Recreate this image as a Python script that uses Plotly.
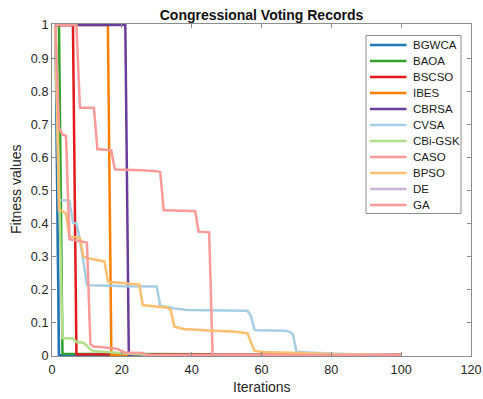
import plotly.graph_objects as go

ITERATIONS = list(range(1, 101))

NAMES = ["BGWCA", "BAOA", "BSCSO", "IBES", "CBRSA", "CVSA",
         "CBi-GSK", "CASO", "BPSO", "DE", "GA"]
COLORS = ["#1f78b4", "#33a02c", "#e31a1c", "#ff7f00", "#6a3d9a", "#a6cee3",
          "#b2df8a", "#fb9a99", "#fdbf6f", "#cab2d6", "#fb9a99"]

BGWCA = [1.0, 0.001, 0.001, 0.001, 0.001, 0.001, 0.001, 0.001, 0.001, 0.001,
         0.001, 0.001, 0.001, 0.001, 0.001, 0.001, 0.001, 0.001, 0.001, 0.001,
         0.001, 0.001, 0.001, 0.001, 0.001, 0.001, 0.001, 0.001, 0.001, 0.001,
         0.001, 0.001, 0.001, 0.001, 0.001, 0.001, 0.001, 0.001, 0.001, 0.001,
         0.001, 0.001, 0.001, 0.001, 0.001, 0.001, 0.001, 0.001, 0.001, 0.001,
         0.001, 0.001, 0.001, 0.001, 0.001, 0.001, 0.001, 0.001, 0.001, 0.001,
         0.001, 0.001, 0.001, 0.001, 0.001, 0.001, 0.001, 0.001, 0.001, 0.001,
         0.001, 0.001, 0.001, 0.001, 0.001, 0.001, 0.001, 0.001, 0.001, 0.001,
         0.001, 0.001, 0.001, 0.001, 0.001, 0.001, 0.001, 0.001, 0.001, 0.001,
         0.001, 0.001, 0.001, 0.001, 0.001, 0.001, 0.001, 0.001, 0.001, 0.001]

BAOA = [1.0, 1.0, 0.006, 0.006, 0.006, 0.006, 0.006, 0.006, 0.006, 0.005,
        0.005, 0.005, 0.005, 0.005, 0.005, 0.005, 0.005, 0.005, 0.005, 0.005,
        0.005, 0.005, 0.004, 0.004, 0.004, 0.004, 0.004, 0.004, 0.004, 0.004,
        0.004, 0.004, 0.004, 0.004, 0.004, 0.004, 0.004, 0.004, 0.004, 0.004,
        0.004, 0.004, 0.004, 0.004, 0.004, 0.003, 0.003, 0.003, 0.003, 0.003,
        0.003, 0.003, 0.003, 0.003, 0.003, 0.003, 0.003, 0.003, 0.003, 0.003,
        0.003, 0.003, 0.003, 0.003, 0.003, 0.003, 0.003, 0.003, 0.003, 0.003,
        0.003, 0.003, 0.003, 0.003, 0.003, 0.003, 0.003, 0.003, 0.003, 0.003,
        0.003, 0.003, 0.003, 0.003, 0.003, 0.003, 0.003, 0.003, 0.003, 0.003,
        0.003, 0.003, 0.003, 0.003, 0.003, 0.003, 0.003, 0.003, 0.003, 0.003]

BSCSO = [1.0, 1.0, 1.0, 1.0, 1.0, 1.0, 0.004, 0.004, 0.004, 0.004,
         0.004, 0.004, 0.004, 0.004, 0.004, 0.004, 0.004, 0.004, 0.004, 0.004,
         0.004, 0.002, 0.002, 0.002, 0.002, 0.002, 0.002, 0.002, 0.002, 0.002,
         0.002, 0.002, 0.002, 0.002, 0.002, 0.002, 0.002, 0.002, 0.002, 0.002,
         0.002, 0.002, 0.002, 0.002, 0.002, 0.002, 0.002, 0.002, 0.002, 0.002,
         0.002, 0.002, 0.002, 0.002, 0.002, 0.002, 0.002, 0.002, 0.002, 0.002,
         0.002, 0.002, 0.002, 0.002, 0.002, 0.005, 0.005, 0.005, 0.005, 0.005,
         0.005, 0.005, 0.002, 0.002, 0.002, 0.002, 0.002, 0.002, 0.002, 0.002,
         0.002, 0.002, 0.002, 0.002, 0.002, 0.002, 0.002, 0.002, 0.002, 0.002,
         0.002, 0.002, 0.002, 0.002, 0.002, 0.002, 0.002, 0.002, 0.002, 0.002]

IBES = [1.0, 1.0, 1.0, 1.0, 1.0, 1.0, 1.0, 1.0, 1.0, 1.0,
        1.0, 1.0, 1.0, 1.0, 1.0, 1.0, 0.002, 0.002, 0.002, 0.002,
        0.002, 0.002, 0.002, 0.002, 0.002, 0.002, 0.002, 0.002, 0.002, 0.002,
        0.002, 0.002, 0.002, 0.002, 0.002, 0.002, 0.002, 0.002, 0.002, 0.002,
        0.002, 0.002, 0.002, 0.002, 0.002, 0.002, 0.002, 0.002, 0.002, 0.002,
        0.002, 0.002, 0.002, 0.002, 0.002, 0.002, 0.002, 0.002, 0.002, 0.002,
        0.002, 0.002, 0.002, 0.002, 0.002, 0.002, 0.002, 0.002, 0.002, 0.002,
        0.002, 0.002, 0.002, 0.002, 0.002, 0.002, 0.002, 0.002, 0.002, 0.002,
        0.002, 0.002, 0.002, 0.002, 0.002, 0.002, 0.002, 0.002, 0.002, 0.002,
        0.002, 0.002, 0.002, 0.002, 0.002, 0.002, 0.002, 0.002, 0.002, 0.002]

CBRSA = [1.0, 1.0, 1.0, 1.0, 1.0, 1.0, 1.0, 1.0, 1.0, 1.0,
         1.0, 1.0, 1.0, 1.0, 1.0, 1.0, 1.0, 1.0, 1.0, 1.0,
         1.0, 0.002, 0.002, 0.002, 0.002, 0.002, 0.002, 0.002, 0.002, 0.002,
         0.002, 0.002, 0.002, 0.002, 0.002, 0.002, 0.002, 0.002, 0.002, 0.002,
         0.002, 0.002, 0.002, 0.002, 0.002, 0.002, 0.002, 0.002, 0.002, 0.002,
         0.002, 0.002, 0.002, 0.002, 0.002, 0.002, 0.002, 0.002, 0.002, 0.002,
         0.002, 0.002, 0.002, 0.002, 0.002, 0.002, 0.002, 0.002, 0.002, 0.002,
         0.002, 0.002, 0.002, 0.002, 0.002, 0.002, 0.002, 0.002, 0.002, 0.002,
         0.002, 0.002, 0.002, 0.002, 0.002, 0.002, 0.002, 0.002, 0.002, 0.002,
         0.002, 0.002, 0.002, 0.002, 0.002, 0.002, 0.002, 0.002, 0.002, 0.002]

CVSA = [1.0, 0.47, 0.47, 0.47, 0.469, 0.402, 0.40, 0.35, 0.275, 0.214,
        0.213, 0.213, 0.213, 0.212, 0.212, 0.212, 0.211, 0.211, 0.211, 0.21,
        0.21, 0.21, 0.21, 0.21, 0.21, 0.21, 0.21, 0.21, 0.21, 0.209,
        0.15, 0.149, 0.148, 0.146, 0.143, 0.141, 0.14, 0.139, 0.138, 0.138,
        0.138, 0.138, 0.138, 0.138, 0.138, 0.138, 0.137, 0.137, 0.137, 0.137,
        0.137, 0.137, 0.137, 0.137, 0.136, 0.136, 0.12, 0.078, 0.077, 0.077,
        0.077, 0.077, 0.077, 0.077, 0.077, 0.076, 0.075, 0.072, 0.065, 0.012,
        0.011, 0.01, 0.01, 0.009, 0.009, 0.008, 0.008, 0.007, 0.007, 0.006,
        0.006, 0.006, 0.005, 0.005, 0.005, 0.004, 0.004, 0.004, 0.003, 0.003,
        0.003, 0.003, 0.002, 0.002, 0.002, 0.002, 0.002, 0.002, 0.002, 0.002]

CBI_GSK = [1.0, 0.5, 0.053, 0.053, 0.053, 0.052, 0.041, 0.04, 0.039, 0.03,
           0.018, 0.014, 0.013, 0.013, 0.012, 0.012, 0.011, 0.008, 0.007, 0.007,
           0.006, 0.006, 0.004, 0.004, 0.004, 0.003, 0.001, 0.001, 0.001, 0.001,
           0.001, 0.001, 0.001, 0.001, 0.001, 0.001, 0.001, 0.001, 0.001, 0.001,
           0.001, 0.001, 0.001, 0.001, 0.001, 0.001, 0.001, 0.001, 0.001, 0.001,
           0.001, 0.001, 0.001, 0.001, 0.001, 0.001, 0.001, 0.001, 0.001, 0.001,
           0.001, 0.001, 0.001, 0.001, 0.001, 0.001, 0.001, 0.001, 0.001, 0.001,
           0.001, 0.001, 0.001, 0.001, 0.001, 0.001, 0.001, 0.001, 0.001, 0.001,
           0.001, 0.001, 0.001, 0.001, 0.001, 0.001, 0.001, 0.001, 0.001, 0.001,
           0.001, 0.001, 0.001, 0.001, 0.001, 0.001, 0.001, 0.001, 0.001, 0.001]

CASO = [1.0, 1.0, 1.0, 1.0, 1.0, 1.0, 1.0, 0.75, 0.75, 0.75,
        0.75, 0.75, 0.625, 0.625, 0.623, 0.622, 0.62, 0.563, 0.563, 0.562,
        0.562, 0.562, 0.561, 0.561, 0.561, 0.561, 0.56, 0.56, 0.56, 0.558,
        0.555, 0.44, 0.44, 0.439, 0.439, 0.439, 0.438, 0.438, 0.438, 0.438,
        0.437, 0.375, 0.375, 0.374, 0.373, 0.002, 0.002, 0.002, 0.002, 0.002,
        0.002, 0.002, 0.002, 0.002, 0.002, 0.002, 0.002, 0.002, 0.002, 0.002,
        0.002, 0.002, 0.002, 0.002, 0.002, 0.002, 0.002, 0.002, 0.002, 0.002,
        0.002, 0.002, 0.002, 0.002, 0.002, 0.002, 0.002, 0.002, 0.002, 0.002,
        0.002, 0.002, 0.002, 0.002, 0.002, 0.002, 0.002, 0.002, 0.002, 0.002,
        0.002, 0.002, 0.002, 0.002, 0.002, 0.002, 0.002, 0.002, 0.002, 0.002]

BPSO = [1.0, 0.44, 0.437, 0.43, 0.36, 0.36, 0.358, 0.355, 0.30, 0.295,
        0.293, 0.292, 0.29, 0.289, 0.285, 0.225, 0.222, 0.222, 0.221, 0.22,
        0.22, 0.219, 0.219, 0.218, 0.215, 0.153, 0.152, 0.151, 0.15, 0.148,
        0.147, 0.146, 0.145, 0.14, 0.088, 0.085, 0.082, 0.08, 0.08, 0.079,
        0.079, 0.078, 0.078, 0.077, 0.075, 0.075, 0.075, 0.074, 0.074, 0.074,
        0.073, 0.073, 0.072, 0.072, 0.071, 0.068, 0.04, 0.015, 0.013, 0.011,
        0.01, 0.01, 0.01, 0.01, 0.01, 0.009, 0.009, 0.009, 0.009, 0.008,
        0.008, 0.008, 0.007, 0.007, 0.007, 0.006, 0.006, 0.005, 0.005, 0.005,
        0.004, 0.004, 0.004, 0.004, 0.003, 0.003, 0.003, 0.003, 0.003, 0.003,
        0.002, 0.002, 0.002, 0.002, 0.002, 0.001, 0.001, 0.001, 0.001, 0.001]

DE = [1.0, 0.0, 0.0, 0.0, 0.0, 0.0, 0.0, 0.0, 0.0, 0.0,
      0.0, 0.0, 0.0, 0.0, 0.0, 0.0, 0.0, 0.0, 0.0, 0.0,
      0.0, 0.0, 0.0, 0.0, 0.0, 0.0, 0.0, 0.0, 0.0, 0.0,
      0.0, 0.0, 0.0, 0.0, 0.0, 0.0, 0.0, 0.0, 0.0, 0.0,
      0.0, 0.0, 0.0, 0.0, 0.0, 0.0, 0.0, 0.0, 0.0, 0.0,
      0.0, 0.0, 0.0, 0.0, 0.0, 0.0, 0.0, 0.0, 0.0, 0.0,
      0.0, 0.0, 0.0, 0.0, 0.0, 0.0, 0.0, 0.0, 0.0, 0.0,
      0.0, 0.0, 0.0, 0.0, 0.0, 0.0, 0.0, 0.0, 0.0, 0.0,
      0.0, 0.0, 0.0, 0.0, 0.0, 0.0, 0.0, 0.0, 0.0, 0.0,
      0.0, 0.0, 0.0, 0.0, 0.0, 0.0, 0.0, 0.0, 0.0, 0.0]

GA = [1.0, 0.69, 0.668, 0.665, 0.352, 0.35, 0.349, 0.347, 0.345, 0.342,
      0.035, 0.027, 0.027, 0.026, 0.026, 0.026, 0.025, 0.022, 0.019, 0.014,
      0.009, 0.009, 0.009, 0.008, 0.008, 0.008, 0.002, 0.002, 0.002, 0.002,
      0.002, 0.002, 0.002, 0.002, 0.002, 0.002, 0.002, 0.002, 0.002, 0.002,
      0.002, 0.002, 0.002, 0.002, 0.002, 0.002, 0.002, 0.002, 0.002, 0.002,
      0.002, 0.002, 0.002, 0.002, 0.002, 0.002, 0.002, 0.002, 0.002, 0.002,
      0.002, 0.002, 0.002, 0.002, 0.002, 0.002, 0.002, 0.002, 0.002, 0.002,
      0.002, 0.002, 0.002, 0.002, 0.002, 0.002, 0.002, 0.002, 0.002, 0.002,
      0.002, 0.002, 0.002, 0.002, 0.002, 0.002, 0.002, 0.002, 0.002, 0.002,
      0.002, 0.002, 0.002, 0.002, 0.002, 0.002, 0.002, 0.002, 0.002, 0.002]

VALUES = [BGWCA, BAOA, BSCSO, IBES, CBRSA, CVSA, CBI_GSK, CASO, BPSO, DE, GA]

X_TICKS = [0, 20, 40, 60, 80, 100, 120]
Y_TICKS = [0, 0.1, 0.2, 0.3, 0.4, 0.5, 0.6, 0.7, 0.8, 0.9, 1]
Y_TICK_TEXT = ["0", "0.1", "0.2", "0.3", "0.4", "0.5", "0.6", "0.7", "0.8", "0.9", "1"]

FONT = "Liberation Sans, Arial, Helvetica, sans-serif"
W, H = 483, 399
ML, MR, MT, MB = 52, 12, 24, 43
LW = 2.5

fig = go.Figure()
# DE is drawn first (underneath the others); the legend keeps the original order
draw_order = [9] + [i for i in range(len(NAMES)) if i != 9]
for i in draw_order:
    fig.add_trace(go.Scatter(x=ITERATIONS, y=VALUES[i], mode="lines", name=NAMES[i],
                             line=dict(color=COLORS[i], width=LW),
                             showlegend=False, hoverinfo="skip"))

pw, ph = W - ML - MR, H - MT - MB
def px(x):
    return (x - ML) / pw
def py(y):
    return (H - MB - y) / ph

# Compact MATLAB-style legend box
shapes = [dict(type="rect", xref="paper", yref="paper",
               x0=px(366), x1=px(461), y0=py(213.5), y1=py(35.5),
               line=dict(color="#8c8c8c", width=1), fillcolor="white", layer="above")]
annotations = []
for k, (name, col) in enumerate(zip(NAMES, COLORS)):
    yy = 45 + 16 * k
    shapes.append(dict(type="line", xref="paper", yref="paper",
                       x0=px(370), x1=px(406.5), y0=py(yy), y1=py(yy),
                       line=dict(color=col, width=LW), layer="above"))
    annotations.append(dict(text=name, xref="paper", yref="paper", x=px(410.5), y=py(yy),
                            xanchor="left", yanchor="middle", showarrow=False,
                            font=dict(family=FONT, size=11.5, color="#1a1a1a")))

# Axis titles
annotations.append(dict(text="Iterations", xref="paper", yref="paper",
                        x=px(ML + pw / 2), y=py(387), xanchor="center", yanchor="middle",
                        showarrow=False, font=dict(family=FONT, size=14, color="#262626")))
annotations.append(dict(text="Fitness values", xref="paper", yref="paper",
                        x=px(16), y=py(MT + ph / 2), xanchor="center", yanchor="middle",
                        textangle=-90, showarrow=False,
                        font=dict(family=FONT, size=14, color="#262626")))

axis_common = dict(showline=True, linecolor="#8c8c8c", linewidth=1, mirror="ticks",
                   ticks="inside", ticklen=4, tickcolor="#8c8c8c", tickwidth=1,
                   showgrid=False, zeroline=False, automargin=False,
                   tickfont=dict(family=FONT, size=12.7, color="#262626"))

fig.update_layout(
    width=W, height=H,
    margin=dict(l=ML, r=MR, t=MT, b=MB, autoexpand=False),
    paper_bgcolor="white", plot_bgcolor="white",
    title=dict(text="<b>Congressional Voting Records</b>", x=(ML + pw / 2) / W, xanchor="center",
               y=1 - 15 / H, yanchor="middle", yref="container",
               font=dict(family=FONT, size=14, color="#111111")),
    xaxis=dict(range=[0, 120], tickvals=X_TICKS, ticklabelstandoff=2, **axis_common),
    yaxis=dict(range=[-0.001, 1.003], tickvals=Y_TICKS, ticktext=Y_TICK_TEXT, **axis_common),
    shapes=shapes, annotations=annotations, showlegend=False,
)

fig.write_html("out.html", config={"displayModeBar": False})
